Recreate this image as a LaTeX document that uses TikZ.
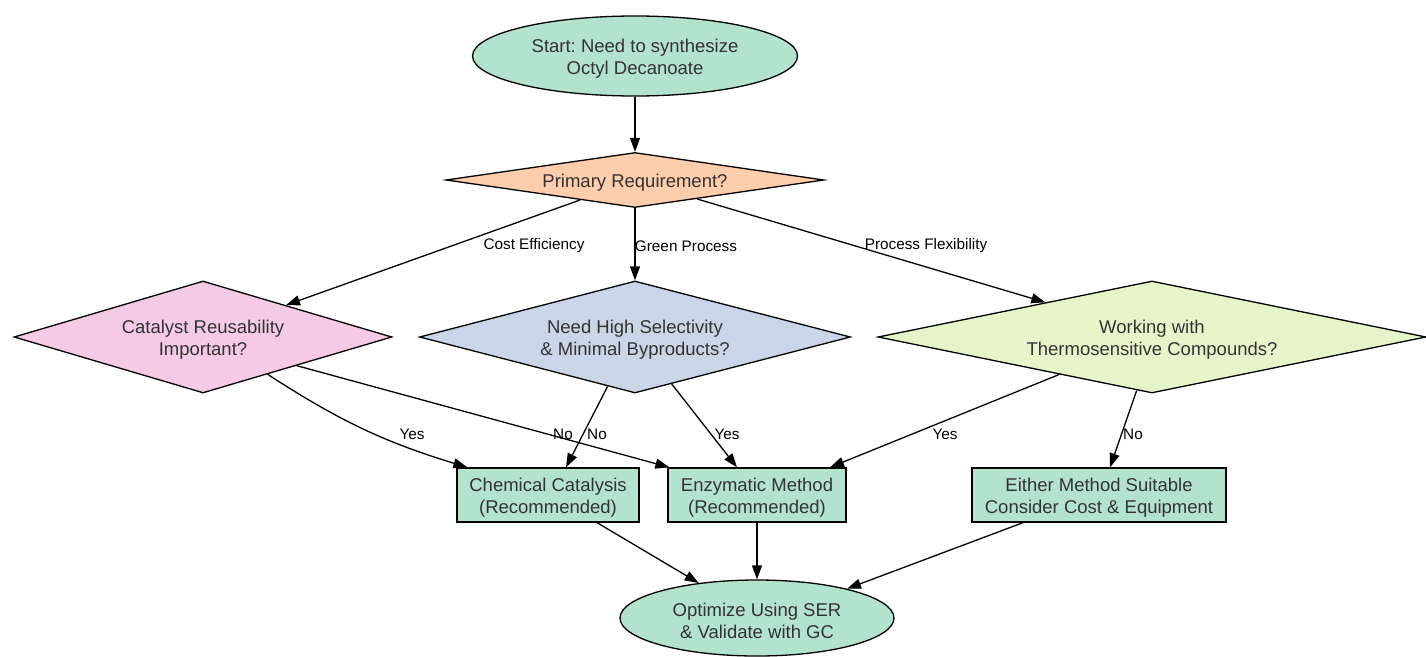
\documentclass[tikz,border=0pt]{standalone}
\usepackage{fontspec}
\setmainfont{Liberation Sans}
\usetikzlibrary{shapes.geometric,arrows.meta,calc}
\definecolor{txtc}{HTML}{333333}
\definecolor{greenfill}{HTML}{B3E2CD}
\definecolor{orangefill}{HTML}{FDCDAC}
\definecolor{pinkfill}{HTML}{F4CAE4}
\definecolor{bluefill}{HTML}{CBD5E8}
\definecolor{limefill}{HTML}{E6F5C9}
\frenchspacing
\begin{document}
\begin{tikzpicture}[x=1pt,y=-1pt,
  txt/.style={text=txtc,font=\fontsize{18.5}{22}\selectfont,align=center,yshift=-2.5pt},
  base/.style={draw=black,line width=1.3pt},
  term/.style={base,ellipse,inner sep=0pt},
  dec/.style={base,diamond,inner sep=0pt},
  proc/.style={base,rectangle,minimum width=182pt,minimum height=54pt,inner sep=0pt},
  arr/.style={-{Triangle[length=14pt,width=10pt]},line width=1.3pt},
  lbl/.style={font=\fontsize{15.3}{18}\selectfont,text=black,inner sep=1pt}]
\useasboundingbox (0,0) rectangle (1426,656);
% nodes
\node[term,fill=greenfill,minimum width=325pt,minimum height=80pt,
  label={[txt]center:Start: Need to synthesize\\Octyl Decanoate}] (start) at (635,56) {};
\node[dec,fill=orangefill,minimum width=378pt,minimum height=55pt,
  label={[txt]center:Primary Requirement?}] (prim) at (635,180) {};
\node[dec,fill=pinkfill,minimum width=378pt,minimum height=112pt,
  label={[txt]center:Catalyst Reusability\\Important?}] (cat) at (203,337) {};
\node[dec,fill=bluefill,minimum width=431pt,minimum height=112pt,
  label={[txt]center:Need High Selectivity\\\& Minimal Byproducts?}] (need) at (635,337) {};
\node[dec,fill=limefill,minimum width=548pt,minimum height=112pt,
  label={[txt]center:Working with\\Thermosensitive Compounds?}] (work) at (1152,337) {};
\node[proc,fill=greenfill,
  label={[txt]center:Chemical Catalysis\\(Recommended)}] (chem) at (548,495) {};
\node[proc,fill=greenfill,minimum width=178pt,
  label={[txt]center:Enzymatic Method\\(Recommended)}] (enz) at (757,495) {};
\node[proc,fill=greenfill,minimum width=254pt,
  label={[txt]center:Either Method Suitable\\Consider Cost \& Equipment}] (either) at (1099,495) {};
\node[term,fill=greenfill,minimum width=274pt,minimum height=76pt,
  label={[txt]center:Optimize Using SER\\\& Validate with GC}] (opt) at (757,618) {};
% connectors
\draw[arr] (start) -- (prim);
\draw[arr] (prim.200.7) -- (cat.21.9);
\draw[arr] (prim) -- (need);
\draw[arr] (prim.-17.9) -- (work.162.2);
\draw[arr] (cat.-30.3) to[bend right=8] ([xshift=11pt]chem.north west);
\draw[arr] (cat.-17.1) -- ([xshift=2pt]enz.north west);
\draw[arr] (need.241.6) -- ([xshift=18pt]chem.north);
\draw[arr] (need.-52.5) -- ([xshift=-20pt]enz.north);
\draw[arr] (work.202.9) -- ([xshift=73pt]enz.north);
\draw[arr] (work.254.5) -- ([xshift=11pt]either.north);
\draw[arr] ([xshift=49pt]chem.south) -- (opt.149.7);
\draw[arr] (enz) -- (opt);
\draw[arr] ([xshift=-76pt]either.south) -- (opt.18.8);
% edge labels
\node[lbl] (l1) at (534,246) {Cost Efficiency};
\node[lbl] (l2) at (686,246) {Green Process};
\node[lbl] (l3) at (926,246) {Process Flexibility};
\node[lbl] (l4) at (412,434) {Yes};
\node[lbl] (l5) at (563,434) {No};
\node[lbl] (l6) at (597,434) {No};
\node[lbl] (l7) at (727,434) {Yes};
\node[lbl] (l8) at (945,434) {Yes};
\node[lbl] (l9) at (1133,434) {No};
\end{tikzpicture}
\end{document}
